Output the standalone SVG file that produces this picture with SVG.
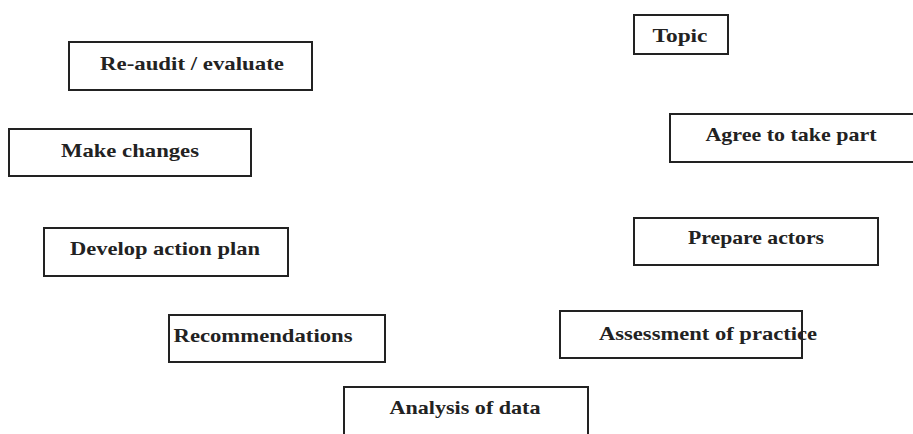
<svg xmlns="http://www.w3.org/2000/svg" width="913" height="434" viewBox="0 0 913 434">
<style>
.box{fill:#fff;stroke:#222;stroke-width:2}
.lbl{font-family:"Liberation Serif","Times New Roman",serif;font-weight:bold;font-size:19px;fill:#222;text-anchor:middle}
</style>
<rect width="913" height="434" fill="#fff"/>
<g id="connectors"></g>
<g id="n-reaudit"><rect class="box" x="69" y="42" width="243" height="48"/><text class="lbl" x="192" y="70" textLength="184" lengthAdjust="spacingAndGlyphs">Re-audit / evaluate</text></g>
<g id="n-topic"><rect class="box" x="634" y="15" width="94" height="39"/><text class="lbl" x="680" y="42" textLength="55" lengthAdjust="spacingAndGlyphs">Topic</text></g>
<g id="n-agree"><rect class="box" x="670" y="114" width="260" height="48"/><text class="lbl" x="791" y="141" textLength="171" lengthAdjust="spacingAndGlyphs">Agree to take part</text></g>
<g id="n-make"><rect class="box" x="9" y="129" width="242" height="47"/><text class="lbl" x="130" y="157" textLength="138" lengthAdjust="spacingAndGlyphs">Make changes</text></g>
<g id="n-develop"><rect class="box" x="44" y="228" width="244" height="48"/><text class="lbl" x="165" y="255" textLength="190" lengthAdjust="spacingAndGlyphs">Develop action plan</text></g>
<g id="n-prepare"><rect class="box" x="634" y="218" width="244" height="47"/><text class="lbl" x="756" y="244" textLength="136" lengthAdjust="spacingAndGlyphs">Prepare actors</text></g>
<g id="n-recommend"><rect class="box" x="169" y="315" width="216" height="47"/><text class="lbl" x="263" y="342" textLength="179" lengthAdjust="spacingAndGlyphs">Recommendations</text></g>
<g id="n-assess"><rect class="box" x="560" y="311" width="242" height="47"/><text class="lbl" x="708" y="340" textLength="218" lengthAdjust="spacingAndGlyphs">Assessment of practice</text></g>
<g id="n-analysis"><rect class="box" x="344" y="387" width="244" height="60"/><text class="lbl" x="465" y="414" textLength="151" lengthAdjust="spacingAndGlyphs">Analysis of data</text></g>
</svg>
